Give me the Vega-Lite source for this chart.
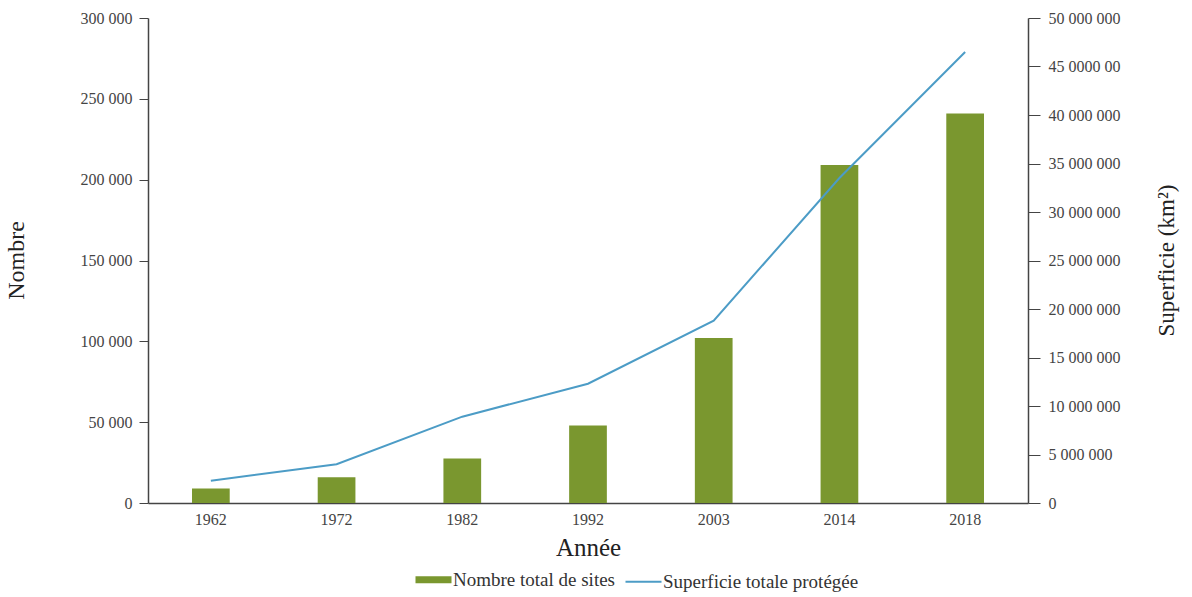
{
  "$schema": "https://vega.github.io/schema/vega-lite/v6.json",
  "autosize": {"type": "none"},
  "width": 880,
  "height": 485,
  "padding": {"left": 148, "top": 18, "right": 164, "bottom": 94},
  "background": "white",
  "config": {
    "view": {"stroke": null},
    "font": "Liberation Serif",
    "axis": {"labelFont": "Liberation Serif", "titleFont": "Liberation Serif", "labelColor": "#444", "titleColor": "#222", "domainColor": "#444", "tickColor": "#444", "grid": false, "titleFontWeight": "normal"}
  },
  "data": {
    "values": [
      {"annee": "1962", "sites": 9000, "superficie": 2300000},
      {"annee": "1972", "sites": 16000, "superficie": 4000000},
      {"annee": "1982", "sites": 27500, "superficie": 8900000},
      {"annee": "1992", "sites": 48000, "superficie": 12300000},
      {"annee": "2003", "sites": 102000, "superficie": 18800000},
      {"annee": "2014", "sites": 209000, "superficie": 33500000},
      {"annee": "2018", "sites": 241000, "superficie": 46500000}
    ]
  },
  "encoding": {
    "x": {
      "field": "annee", "type": "ordinal", "title": "Année",
      "scale": {"paddingInner": 0.7, "paddingOuter": 0.35},
      "axis": {"labelAngle": 0, "labelFontSize": 16, "titleFontSize": 25, "ticks": false, "labelPadding": 8, "titlePadding": 8, "domainWidth": 1.5}
    }
  },
  "layer": [
    {
      "mark": {"type": "bar"},
      "encoding": {
        "y": {
          "field": "sites", "type": "quantitative", "title": "Nombre",
          "scale": {"domain": [0, 300000], "nice": false},
          "axis": {"values": [0, 50000, 100000, 150000, 200000, 250000, 300000], "labelExpr": "replace(format(datum.value, ','), regexp(',', 'g'), ' ')", "labelFontSize": 16, "titleFontSize": 24, "tickSize": 9, "labelPadding": 7, "titleX": -120, "titleY": 242, "domainWidth": 1.5}
        },
        "color": {
          "datum": "Nombre total de sites", "type": "nominal",
          "scale": {"domain": ["Nombre total de sites", "Superficie totale protégée"], "range": ["#7a972f", "#4c9cc6"]},
          "legend": {
            "title": null, "orient": "none", "direction": "horizontal", "legendX": 276, "legendY": 552,
            "symbolType": "stroke", "symbolSize": 1296, "labelFont": "Liberation Serif", "labelFontSize": 19, "labelColor": "#333", "labelOffset": 10, "labelLimit": 400, "columnPadding": 6,
            "encode": {"symbols": {"update": {"strokeWidth": {"signal": "datum.index === 0 ? 7 : 2"}, "stroke": {"scale": "color", "field": "value"}, "opacity": {"value": 1}}}}
          }
        }
      }
    },
    {
      "mark": {"type": "line", "strokeWidth": 2},
      "encoding": {
        "y": {
          "field": "superficie", "type": "quantitative", "title": "Superficie (km²)",
          "scale": {"domain": [0, 50000000], "nice": false},
          "axis": {"orient": "right", "values": [0, 5000000, 10000000, 15000000, 20000000, 25000000, 30000000, 35000000, 40000000, 45000000, 50000000], "labelExpr": "datum.value == 45000000 ? '45 0000 00' : replace(format(datum.value, ','), regexp(',', 'g'), ' ')", "labelFontSize": 16, "titleFontSize": 23, "tickSize": 12, "labelPadding": 8, "titleX": 150, "titleY": 242, "titleAngle": 270, "domainWidth": 1.5}
        },
        "color": {"datum": "Superficie totale protégée", "type": "nominal"}
      }
    }
  ],
  "resolve": {"scale": {"y": "independent"}}
}
